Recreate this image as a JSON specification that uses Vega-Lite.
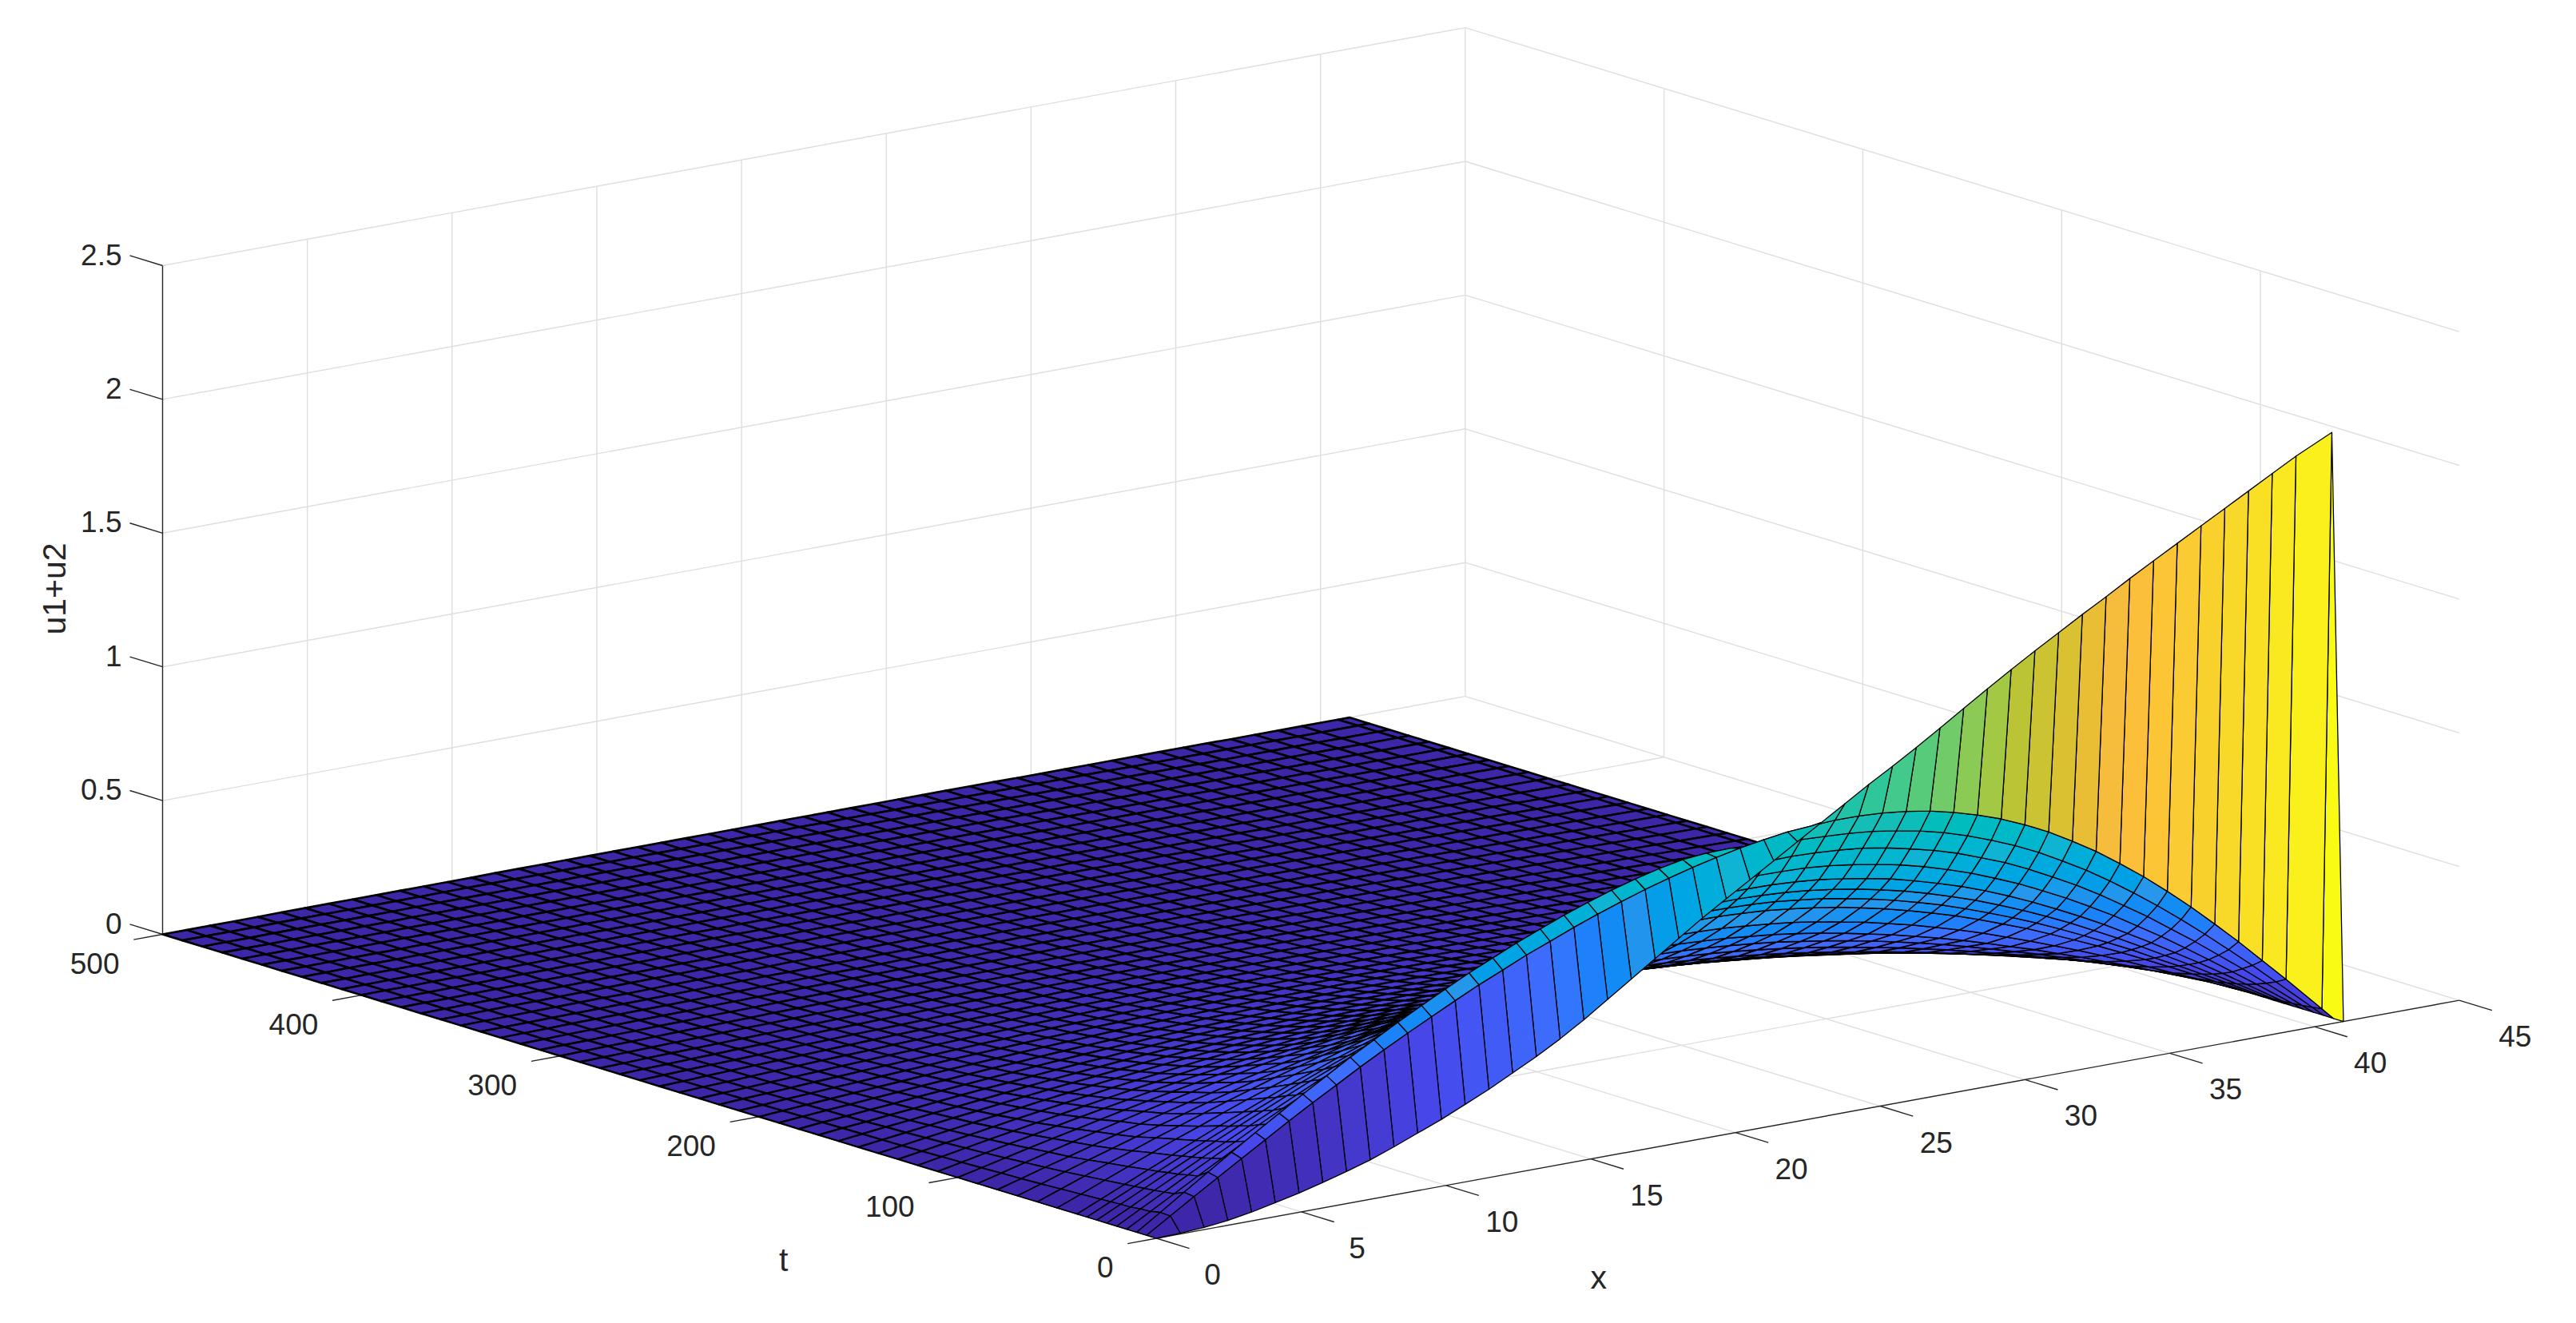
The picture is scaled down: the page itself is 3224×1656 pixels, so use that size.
{"$schema":"https://vega.github.io/schema/vega-lite/v6.json","width":3224,"height":1656,"padding":0,"autosize":{"type":"fit","contains":"padding"},"background":"white","config":{"view":{"stroke":null}},
"datasets":{
"xs":[{"j":1,"x":0},{"j":2,"x":0.82},{"j":3,"x":1.64},{"j":4,"x":2.46},{"j":5,"x":3.28},{"j":6,"x":4.1},{"j":7,"x":4.92},{"j":8,"x":5.74},{"j":9,"x":6.56},{"j":10,"x":7.38},{"j":11,"x":8.2},{"j":12,"x":9.02},{"j":13,"x":9.84},{"j":14,"x":10.66},{"j":15,"x":11.48},{"j":16,"x":12.3},{"j":17,"x":13.12},{"j":18,"x":13.94},{"j":19,"x":14.76},{"j":20,"x":15.58},{"j":21,"x":16.4},{"j":22,"x":17.22},{"j":23,"x":18.04},{"j":24,"x":18.86},{"j":25,"x":19.68},{"j":26,"x":20.5},{"j":27,"x":21.32},{"j":28,"x":22.14},{"j":29,"x":22.96},{"j":30,"x":23.78},{"j":31,"x":24.6},{"j":32,"x":25.42},{"j":33,"x":26.24},{"j":34,"x":27.06},{"j":35,"x":27.88},{"j":36,"x":28.7},{"j":37,"x":29.52},{"j":38,"x":30.34},{"j":39,"x":31.16},{"j":40,"x":31.98},{"j":41,"x":32.8},{"j":42,"x":33.62},{"j":43,"x":34.44},{"j":44,"x":35.26},{"j":45,"x":36.08},{"j":46,"x":36.9},{"j":47,"x":37.72},{"j":48,"x":38.54},{"j":49,"x":39.36},{"j":50,"x":40.6},{"j":51,"x":41}],
"surface":[
{"t":0,"u":[0,3,8,18,33,52,72,95,120,147,180,215,250,290,330,375,420,470,525,585,645,705,765,825,880,935,990,1045,1100,1155,1210,1262,1316,1372,1430,1487,1542,1596,1648,1700,1750,1802,1852,1901,1950,1999,2048,2097,2146,2210,0]},
{"t":5,"u":[0,56,112,167,222,276,330,382,432,483,531,577,622,666,709,748,788,823,859,892,923,952,978,1002,1023,1042,1057,1070,1076,1082,1081,1076,1066,1051,1030,1004,973,935,892,841,787,725,660,589,514,434,352,265,179,44,0]},
{"t":10,"u":[0,58,117,176,234,291,347,402,455,508,557,606,653,698,742,782,822,858,893,925,954,980,1002,1020,1028,1030,1025,1020,1014,1010,1005,996,982,965,943,915,882,846,804,756,705,649,588,524,456,385,311,236,158,39,0]},
{"t":15,"u":[0,50,100,150,199,248,295,344,391,436,480,523,564,605,643,680,715,749,779,808,833,857,878,896,912,924,932,938,940,937,931,922,907,887,865,838,805,771,730,685,638,586,529,472,409,346,279,212,142,34,0]},
{"t":20,"u":[0,48,95,143,189,235,282,327,370,412,456,496,536,573,610,644,675,706,736,761,785,807,826,841,853,863,869,873,872,869,861,849,834,816,793,766,736,701,664,622,578,530,480,425,370,311,251,189,127,31,0]},
{"t":25,"u":[0,44,90,134,179,222,266,308,350,391,430,469,505,541,575,607,638,666,692,717,738,757,773,788,798,806,812,812,811,806,798,785,770,752,729,703,675,643,607,568,526,482,436,386,335,282,228,172,115,28,0]},
{"t":30,"u":[0,43,86,129,171,214,255,295,335,374,411,448,482,516,548,578,607,633,657,680,700,717,731,743,753,759,762,763,760,755,746,734,719,700,679,654,626,596,562,526,487,446,402,357,309,260,210,158,106,26,0]},
{"t":35,"u":[0,41,82,122,163,203,242,281,318,356,391,425,459,491,521,549,577,600,624,644,663,679,691,702,711,716,719,718,715,709,699,688,672,654,633,609,583,553,521,487,451,412,371,329,286,239,193,146,98,24,0]},
{"t":40,"u":[0,39,78,117,155,194,232,268,304,339,373,406,437,467,496,521,547,570,590,610,626,640,652,662,669,673,675,674,670,664,654,642,628,610,590,567,542,515,485,452,419,382,344,305,264,222,179,135,90,22,0]},
{"t":50,"u":[0,35,71,106,141,176,208,242,275,305,336,365,393,419,444,468,489,510,527,543,558,570,580,587,593,596,597,595,591,584,575,565,551,534,517,496,474,449,423,395,364,333,299,266,230,193,155,117,79,19,0]},
{"t":60,"u":[0,32,64,96,126,158,187,217,246,274,302,327,352,375,397,418,437,454,470,483,496,505,515,521,525,527,527,526,521,515,506,497,484,470,453,434,415,393,370,345,318,290,262,231,201,168,136,102,69,17,0]},
{"t":70,"u":[0,28,57,85,112,139,166,192,218,242,267,289,311,331,351,370,386,402,416,428,439,448,456,461,465,467,467,465,462,456,449,440,430,416,402,386,369,349,329,307,283,258,232,206,178,149,120,91,61,15,0]},
{"t":80,"u":[0,25,51,75,100,125,148,172,195,216,238,258,278,296,313,329,344,358,370,380,390,397,404,409,411,413,413,411,408,403,396,388,378,366,354,339,323,306,288,268,248,226,203,180,156,131,106,79,53,13,0]},
{"t":90,"u":[0,23,46,69,91,113,135,156,176,196,215,233,251,267,282,296,309,321,331,340,348,355,360,363,365,366,365,363,360,355,348,340,331,321,309,296,282,267,251,233,215,196,176,156,135,113,91,69,46,11,0]},
{"t":100,"u":[0,20,41,61,81,100,119,138,156,174,190,207,222,236,250,262,274,284,293,301,308,314,318,321,323,324,323,321,318,314,308,301,293,284,274,262,250,236,222,207,190,174,156,138,119,100,81,61,41,10,0]},
{"t":110,"u":[0,18,36,54,71,89,106,122,138,154,169,183,196,209,221,232,242,251,260,267,273,278,282,285,286,287,286,285,282,278,273,267,260,251,242,232,221,209,196,183,169,154,138,122,106,89,71,54,36,9,0]},
{"t":120,"u":[0,16,32,48,63,78,93,108,122,136,149,162,174,185,196,205,214,223,230,236,242,246,250,252,253,254,253,252,250,246,242,236,230,223,214,205,196,185,174,162,149,136,122,108,93,78,63,48,32,8,0]},
{"t":130,"u":[0,14,28,42,56,70,83,96,108,121,132,143,154,164,173,182,190,197,204,209,214,218,221,223,225,225,225,223,221,218,214,209,204,197,190,182,173,164,154,143,132,121,108,96,83,70,56,42,28,7,0]},
{"t":140,"u":[0,12,25,37,49,61,73,85,96,107,117,127,136,145,153,161,168,174,180,185,189,193,195,197,199,199,199,197,195,193,189,185,180,174,168,161,153,145,136,127,117,107,96,85,73,61,49,37,25,6,0]},
{"t":150,"u":[0,11,22,33,44,54,65,75,85,94,103,112,120,128,136,142,149,154,159,164,167,170,173,175,176,176,176,175,173,170,167,164,159,154,149,142,136,128,120,112,103,94,85,75,65,54,44,33,22,5,0]},
{"t":160,"u":[0,10,20,29,39,48,57,66,75,84,92,99,107,114,120,126,132,137,141,145,148,151,153,155,156,156,156,155,153,151,148,145,141,137,132,126,120,114,107,99,92,84,75,66,57,48,39,29,20,5,0]},
{"t":170,"u":[0,9,17,26,34,43,51,59,66,74,81,88,94,101,106,112,117,121,125,128,131,134,136,137,138,138,138,137,136,134,131,128,125,121,117,112,106,101,94,88,81,74,66,59,51,43,34,26,17,4,0]},
{"t":180,"u":[0,8,15,23,30,38,45,52,59,65,72,78,84,89,94,99,103,107,110,113,116,118,120,121,122,122,122,121,120,118,116,113,110,107,103,99,94,89,84,78,72,65,59,52,45,38,30,23,15,4,0]},
{"t":190,"u":[0,7,14,20,27,33,40,46,52,58,63,69,74,79,83,87,91,95,98,100,103,105,106,107,108,108,108,107,106,105,103,100,98,95,91,87,83,79,74,69,63,58,52,46,40,33,27,20,14,3,0]},
{"t":200,"u":[0,6,12,18,24,30,35,41,46,51,56,61,66,70,74,78,81,84,87,89,91,93,94,95,96,96,96,95,94,93,91,89,87,84,81,78,74,70,66,61,56,51,46,41,35,30,24,18,12,3,0]},
{"t":210,"u":[0,5,11,16,21,26,31,36,41,46,50,54,58,62,65,69,72,74,77,79,81,82,83,84,85,85,85,84,83,82,81,79,77,74,72,69,65,62,58,54,50,46,41,36,31,26,21,16,11,3,0]},
{"t":220,"u":[0,5,9,14,19,23,28,32,36,40,44,48,51,55,58,61,63,66,68,70,71,73,74,74,75,75,75,74,74,73,71,70,68,66,63,61,58,55,51,48,44,40,36,32,28,23,19,14,9,2,0]},
{"t":230,"u":[0,4,8,12,16,20,24,28,32,35,39,42,45,48,51,53,56,58,60,61,63,64,65,65,66,66,66,65,65,64,63,61,60,58,56,53,51,48,45,42,39,35,32,28,24,20,16,12,8,2,0]},
{"t":240,"u":[0,4,7,11,15,18,22,25,28,32,35,38,40,43,45,48,50,52,53,55,56,57,58,59,59,59,59,59,58,57,56,55,53,52,50,48,45,43,40,38,35,32,28,25,22,18,15,11,7,2,0]},
{"t":250,"u":[0,3,7,10,13,16,19,22,25,28,31,33,36,38,40,42,44,46,47,48,49,50,51,52,52,52,52,52,51,50,49,48,47,46,44,42,40,38,36,33,31,28,25,22,19,16,13,10,7,2,0]},
{"t":260,"u":[0,3,6,9,11,14,17,20,22,25,27,29,31,34,35,37,39,40,42,43,44,45,45,46,46,46,46,46,45,45,44,43,42,40,39,37,35,34,31,29,27,25,22,20,17,14,11,9,6,1,0]},
{"t":270,"u":[0,3,5,8,10,13,15,17,20,22,24,26,28,30,32,33,35,36,37,38,39,40,40,41,41,41,41,41,40,40,39,38,37,36,35,33,32,30,28,26,24,22,20,17,15,13,10,8,5,1,0]},
{"t":280,"u":[0,2,5,7,9,11,13,15,17,19,21,23,25,26,28,29,30,32,33,33,34,35,35,36,36,36,36,36,35,35,34,33,33,32,30,29,28,26,25,23,21,19,17,15,13,11,9,7,5,1,0]},
{"t":290,"u":[0,2,4,6,8,10,12,14,15,17,19,20,22,23,25,26,27,28,29,30,30,31,31,32,32,32,32,32,31,31,30,30,29,28,27,26,25,23,22,20,19,17,15,14,12,10,8,6,4,1,0]},
{"t":300,"u":[0,2,4,5,7,9,10,12,13,15,16,18,19,20,22,23,24,25,25,26,27,27,28,28,28,28,28,28,28,27,27,26,25,25,24,23,22,20,19,18,16,15,13,12,10,9,7,5,4,1,0]},
{"t":310,"u":[0,2,3,5,6,8,9,11,12,13,15,16,17,18,19,20,21,22,23,23,24,24,25,25,25,25,25,25,25,24,24,23,23,22,21,20,19,18,17,16,15,13,12,11,9,8,6,5,3,1,0]},
{"t":320,"u":[0,1,3,4,5,7,8,9,11,12,13,14,15,16,17,18,19,19,20,20,21,21,22,22,22,22,22,22,22,21,21,20,20,19,19,18,17,16,15,14,13,12,11,9,8,7,5,4,3,1,0]},
{"t":330,"u":[0,1,2,4,5,6,7,8,9,10,11,12,13,14,15,15,16,17,17,18,18,18,19,19,19,19,19,19,19,18,18,18,17,17,16,15,15,14,13,12,11,10,9,8,7,6,5,4,2,1,0]},
{"t":340,"u":[0,1,2,3,4,5,6,7,8,9,10,11,12,12,13,14,14,15,15,16,16,16,17,17,17,17,17,17,17,16,16,16,15,15,14,14,13,12,12,11,10,9,8,7,6,5,4,3,2,1,0]},
{"t":350,"u":[0,1,2,3,4,5,6,6,7,8,9,10,10,11,12,12,13,13,14,14,14,15,15,15,15,15,15,15,15,15,14,14,14,13,13,12,12,11,10,10,9,8,7,6,6,5,4,3,2,0,0]},
{"t":360,"u":[0,1,2,3,3,4,5,6,7,8,8,9,10,10,11,11,12,12,13,13,13,14,14,14,14,14,14,14,14,14,13,13,13,12,12,11,11,10,10,9,8,8,7,6,5,4,3,3,2,0,0]},
{"t":370,"u":[0,1,2,2,3,4,4,5,6,6,7,8,8,9,9,10,10,11,11,11,11,12,12,12,12,12,12,12,12,12,11,11,11,11,10,10,9,9,8,8,7,6,6,5,4,4,3,2,2,0,0]},
{"t":380,"u":[0,1,1,2,3,3,4,5,5,6,6,7,8,8,8,9,9,10,10,10,10,11,11,11,11,11,11,11,11,11,10,10,10,10,9,9,8,8,8,7,6,6,5,5,4,3,3,2,1,0,0]},
{"t":390,"u":[0,1,1,2,2,3,4,4,5,5,6,6,7,7,8,8,8,9,9,9,10,10,10,10,10,10,10,10,10,10,10,9,9,9,8,8,8,7,7,6,6,5,5,4,4,3,2,2,1,0,0]},
{"t":400,"u":[0,1,1,2,2,2,3,3,4,4,5,5,5,6,6,6,7,7,7,7,8,8,8,8,8,8,8,8,8,8,8,7,7,7,7,6,6,6,5,5,5,4,4,3,3,2,2,2,1,0,0]},
{"t":410,"u":[0,0,1,1,2,2,3,3,3,4,4,4,5,5,5,6,6,6,6,7,7,7,7,7,7,7,7,7,7,7,7,7,6,6,6,6,5,5,5,4,4,4,3,3,3,2,2,1,1,0,0]},
{"t":420,"u":[0,0,1,1,1,2,2,3,3,3,4,4,4,4,5,5,5,5,5,6,6,6,6,6,6,6,6,6,6,6,6,6,5,5,5,5,5,4,4,4,4,3,3,3,2,2,1,1,1,0,0]},
{"t":430,"u":[0,0,1,1,1,2,2,2,3,3,3,3,4,4,4,4,5,5,5,5,5,5,5,5,5,5,5,5,5,5,5,5,5,5,5,4,4,4,4,3,3,3,3,2,2,2,1,1,1,0,0]},
{"t":440,"u":[0,0,1,1,1,1,2,2,2,3,3,3,3,4,4,4,4,4,4,5,5,5,5,5,5,5,5,5,5,5,5,5,4,4,4,4,4,4,3,3,3,3,2,2,2,1,1,1,1,0,0]},
{"t":450,"u":[0,0,0,1,1,1,2,2,2,2,2,3,3,3,3,3,4,4,4,4,4,4,4,4,4,4,4,4,4,4,4,4,4,4,4,3,3,3,3,3,2,2,2,2,2,1,1,1,0,0,0]},
{"t":460,"u":[0,0,0,1,1,1,1,2,2,2,2,2,3,3,3,3,3,3,4,4,4,4,4,4,4,4,4,4,4,4,4,4,4,3,3,3,3,3,3,2,2,2,2,2,1,1,1,1,0,0,0]},
{"t":470,"u":[0,0,0,1,1,1,1,1,2,2,2,2,2,2,3,3,3,3,3,3,3,3,3,3,3,3,3,3,3,3,3,3,3,3,3,3,3,2,2,2,2,2,2,1,1,1,1,1,0,0,0]},
{"t":480,"u":[0,0,0,1,1,1,1,1,1,2,2,2,2,2,2,2,3,3,3,3,3,3,3,3,3,3,3,3,3,3,3,3,3,3,3,2,2,2,2,2,2,2,1,1,1,1,1,1,0,0,0]},
{"t":490,"u":[0,0,0,0,1,1,1,1,1,1,1,2,2,2,2,2,2,2,2,2,2,2,2,2,2,2,2,2,2,2,2,2,2,2,2,2,2,2,2,2,1,1,1,1,1,1,1,0,0,0,0]},
{"t":500,"u":[0,0,0,0,0,1,1,1,1,1,1,1,1,1,2,2,2,2,2,2,2,2,2,2,2,2,2,2,2,2,2,2,2,2,2,2,1,1,1,1,1,1,1,1,1,0,0,0,0,0,0]}
],
"segs":[
{"k":"g","x":5,"t":0,"z":0,"x2":5,"t2":500,"z2":0},{"k":"g","x":10,"t":0,"z":0,"x2":10,"t2":500,"z2":0},{"k":"g","x":15,"t":0,"z":0,"x2":15,"t2":500,"z2":0},{"k":"g","x":20,"t":0,"z":0,"x2":20,"t2":500,"z2":0},{"k":"g","x":25,"t":0,"z":0,"x2":25,"t2":500,"z2":0},{"k":"g","x":30,"t":0,"z":0,"x2":30,"t2":500,"z2":0},{"k":"g","x":35,"t":0,"z":0,"x2":35,"t2":500,"z2":0},{"k":"g","x":40,"t":0,"z":0,"x2":40,"t2":500,"z2":0},{"k":"g","x":45,"t":0,"z":0,"x2":45,"t2":500,"z2":0},
{"k":"g","x":0,"t":100,"z":0,"x2":45,"t2":100,"z2":0},{"k":"g","x":0,"t":200,"z":0,"x2":45,"t2":200,"z2":0},{"k":"g","x":0,"t":300,"z":0,"x2":45,"t2":300,"z2":0},{"k":"g","x":0,"t":400,"z":0,"x2":45,"t2":400,"z2":0},{"k":"g","x":0,"t":500,"z":0,"x2":45,"t2":500,"z2":0},
{"k":"g","x":5,"t":500,"z":0,"x2":5,"t2":500,"z2":2.5},{"k":"g","x":10,"t":500,"z":0,"x2":10,"t2":500,"z2":2.5},{"k":"g","x":15,"t":500,"z":0,"x2":15,"t2":500,"z2":2.5},{"k":"g","x":20,"t":500,"z":0,"x2":20,"t2":500,"z2":2.5},{"k":"g","x":25,"t":500,"z":0,"x2":25,"t2":500,"z2":2.5},{"k":"g","x":30,"t":500,"z":0,"x2":30,"t2":500,"z2":2.5},{"k":"g","x":35,"t":500,"z":0,"x2":35,"t2":500,"z2":2.5},{"k":"g","x":40,"t":500,"z":0,"x2":40,"t2":500,"z2":2.5},{"k":"g","x":45,"t":500,"z":0,"x2":45,"t2":500,"z2":2.5},
{"k":"g","x":45,"t":100,"z":0,"x2":45,"t2":100,"z2":2.5},{"k":"g","x":45,"t":200,"z":0,"x2":45,"t2":200,"z2":2.5},{"k":"g","x":45,"t":300,"z":0,"x2":45,"t2":300,"z2":2.5},{"k":"g","x":45,"t":400,"z":0,"x2":45,"t2":400,"z2":2.5},
{"k":"g","x":0,"t":500,"z":0.5,"x2":45,"t2":500,"z2":0.5},{"k":"g","x":0,"t":500,"z":1,"x2":45,"t2":500,"z2":1},{"k":"g","x":0,"t":500,"z":1.5,"x2":45,"t2":500,"z2":1.5},{"k":"g","x":0,"t":500,"z":2,"x2":45,"t2":500,"z2":2},{"k":"g","x":0,"t":500,"z":2.5,"x2":45,"t2":500,"z2":2.5},
{"k":"g","x":45,"t":0,"z":0.5,"x2":45,"t2":500,"z2":0.5},{"k":"g","x":45,"t":0,"z":1,"x2":45,"t2":500,"z2":1},{"k":"g","x":45,"t":0,"z":1.5,"x2":45,"t2":500,"z2":1.5},{"k":"g","x":45,"t":0,"z":2,"x2":45,"t2":500,"z2":2},{"k":"g","x":45,"t":0,"z":2.5,"x2":45,"t2":500,"z2":2.5},
{"k":"a","x":0,"t":0,"z":0,"x2":45,"t2":0,"z2":0},{"k":"a","x":0,"t":0,"z":0,"x2":0,"t2":500,"z2":0},{"k":"a","x":0,"t":500,"z":0,"x2":0,"t2":500,"z2":2.5},
{"k":"a","x":0,"t":0,"z":0,"x2":0,"t2":-16.5,"z2":0},{"k":"a","x":5,"t":0,"z":0,"x2":5,"t2":-16.5,"z2":0},{"k":"a","x":10,"t":0,"z":0,"x2":10,"t2":-16.5,"z2":0},{"k":"a","x":15,"t":0,"z":0,"x2":15,"t2":-16.5,"z2":0},{"k":"a","x":20,"t":0,"z":0,"x2":20,"t2":-16.5,"z2":0},{"k":"a","x":25,"t":0,"z":0,"x2":25,"t2":-16.5,"z2":0},{"k":"a","x":30,"t":0,"z":0,"x2":30,"t2":-16.5,"z2":0},{"k":"a","x":35,"t":0,"z":0,"x2":35,"t2":-16.5,"z2":0},{"k":"a","x":40,"t":0,"z":0,"x2":40,"t2":-16.5,"z2":0},{"k":"a","x":45,"t":0,"z":0,"x2":45,"t2":-16.5,"z2":0},
{"k":"a","x":0,"t":0,"z":0,"x2":-1,"t2":0,"z2":0},{"k":"a","x":0,"t":100,"z":0,"x2":-1,"t2":100,"z2":0},{"k":"a","x":0,"t":200,"z":0,"x2":-1,"t2":200,"z2":0},{"k":"a","x":0,"t":300,"z":0,"x2":-1,"t2":300,"z2":0},{"k":"a","x":0,"t":400,"z":0,"x2":-1,"t2":400,"z2":0},{"k":"a","x":0,"t":500,"z":0,"x2":-1,"t2":500,"z2":0},
{"k":"a","x":0,"t":500,"z":0,"x2":0,"t2":516.5,"z2":0},{"k":"a","x":0,"t":500,"z":0.5,"x2":0,"t2":516.5,"z2":0.5},{"k":"a","x":0,"t":500,"z":1,"x2":0,"t2":516.5,"z2":1},{"k":"a","x":0,"t":500,"z":1.5,"x2":0,"t2":516.5,"z2":1.5},{"k":"a","x":0,"t":500,"z":2,"x2":0,"t2":516.5,"z2":2},{"k":"a","x":0,"t":500,"z":2.5,"x2":0,"t2":516.5,"z2":2.5}
],
"labels":[
{"k":"x","text":"0","x":0,"t":0,"z":0},{"k":"x","text":"5","x":5,"t":0,"z":0},{"k":"x","text":"10","x":10,"t":0,"z":0},{"k":"x","text":"15","x":15,"t":0,"z":0},{"k":"x","text":"20","x":20,"t":0,"z":0},{"k":"x","text":"25","x":25,"t":0,"z":0},{"k":"x","text":"30","x":30,"t":0,"z":0},{"k":"x","text":"35","x":35,"t":0,"z":0},{"k":"x","text":"40","x":40,"t":0,"z":0},{"k":"x","text":"45","x":45,"t":0,"z":0},
{"k":"t","text":"0","x":0,"t":0,"z":0},{"k":"t","text":"100","x":0,"t":100,"z":0},{"k":"t","text":"200","x":0,"t":200,"z":0},{"k":"t","text":"300","x":0,"t":300,"z":0},{"k":"t","text":"400","x":0,"t":400,"z":0},{"k":"t","text":"500","x":0,"t":500,"z":0},
{"k":"z","text":"0","x":0,"t":500,"z":0},{"k":"z","text":"0.5","x":0,"t":500,"z":0.5},{"k":"z","text":"1","x":0,"t":500,"z":1},{"k":"z","text":"1.5","x":0,"t":500,"z":1.5},{"k":"z","text":"2","x":0,"t":500,"z":2},{"k":"z","text":"2.5","x":0,"t":500,"z":2.5},
{"k":"title","text":"x","x":6.65,"t":-125.5,"z":0},{"k":"title","text":"t","x":-9.69,"t":46.5,"z":0},
{"k":"ztitle","text":"u1+u2","x":0,"t":553.7,"z":1.17}
]},
"layer":[
{"data":{"name":"segs"},"transform":[{"filter":"datum.k=='g'"},{"calculate":"1447.5+36.23*datum.x-2.488*datum.t","as":"sx"},{"calculate":"1550-6.62*datum.x-0.761*datum.t-334.8*datum.z","as":"sy"},{"calculate":"1447.5+36.23*datum.x2-2.488*datum.t2","as":"sx2"},{"calculate":"1550-6.62*datum.x2-0.761*datum.t2-334.8*datum.z2","as":"sy2"}],
"mark":{"type":"rule","stroke":"#DEDEDE","strokeWidth":1.4},
"encoding":{"x":{"field":"sx","type":"quantitative","scale":{"domain":[0,3224],"nice":false,"zero":false},"axis":null},"y":{"field":"sy","type":"quantitative","scale":{"domain":[1656,0],"nice":false,"zero":false},"axis":null},"x2":{"field":"sx2"},"y2":{"field":"sy2"}}},
{"data":{"name":"segs"},"transform":[{"filter":"datum.k=='a'"},{"calculate":"1447.5+36.23*datum.x-2.488*datum.t","as":"sx"},{"calculate":"1550-6.62*datum.x-0.761*datum.t-334.8*datum.z","as":"sy"},{"calculate":"1447.5+36.23*datum.x2-2.488*datum.t2","as":"sx2"},{"calculate":"1550-6.62*datum.x2-0.761*datum.t2-334.8*datum.z2","as":"sy2"}],
"mark":{"type":"rule","stroke":"#262626","strokeWidth":1.4},
"encoding":{"x":{"field":"sx","type":"quantitative","axis":null},"y":{"field":"sy","type":"quantitative","axis":null},"x2":{"field":"sx2"},"y2":{"field":"sy2"}}},
{"data":{"name":"surface"},
"transform":[
{"window":[{"op":"lead","field":"u","as":"v"},{"op":"lead","field":"t","as":"t2"}],"sort":[{"field":"t"}]},
{"filter":"datum.t2!=null"},
{"flatten":["u","v"],"as":["u0","u1"]},
{"window":[{"op":"row_number","as":"j"}],"groupby":["t"]},
{"window":[{"op":"lead","field":"u0","as":"u0b"},{"op":"lead","field":"u1","as":"u1b"}],"groupby":["t"],"sort":[{"field":"j"}]},
{"filter":"datum.u0b!=null"},
{"calculate":"datum.j+1","as":"k"},
{"lookup":"j","from":{"data":{"name":"xs"},"key":"j","fields":["x"]},"as":["xa"]},
{"lookup":"k","from":{"data":{"name":"xs"},"key":"j","fields":["x"]},"as":["xb"]},
{"calculate":"datum.t*1000+datum.xa","as":"depth"},
{"calculate":"{type:'Feature',properties:{},geometry:{type:'Polygon',coordinates:[[[1447.5+36.23*datum.xa-2.488*datum.t,1550-6.62*datum.xa-0.761*datum.t-0.3348*datum.u0],[1447.5+36.23*datum.xb-2.488*datum.t,1550-6.62*datum.xb-0.761*datum.t-0.3348*datum.u0b],[1447.5+36.23*datum.xb-2.488*datum.t2,1550-6.62*datum.xb-0.761*datum.t2-0.3348*datum.u1b],[1447.5+36.23*datum.xa-2.488*datum.t2,1550-6.62*datum.xa-0.761*datum.t2-0.3348*datum.u1],[1447.5+36.23*datum.xa-2.488*datum.t,1550-6.62*datum.xa-0.761*datum.t-0.3348*datum.u0]]]}}","as":"geo"}
],
"projection":{"type":"identity","scale":1,"translate":[0,0]},
"mark":{"type":"geoshape","stroke":"#000000","strokeJoin":"round"},
"encoding":{"shape":{"field":"geo","type":"geojson"},"order":{"field":"depth","type":"quantitative","sort":"descending"},"strokeWidth":{"field":"t","type":"quantitative","legend":null,"scale":{"domain":[0,60,150,500],"range":[1.3,1.6,2.3,2.7]}},"fill":{"field":"u0","type":"quantitative","legend":null,"scale":{"domain":[0,221,442,663,884,1105,1326,1547,1768,1989,2210],"range":["#3E26A8","#4747EB","#3D70FF","#2797EB","#12B3D3","#1FBFB2","#5CCB77","#BDC433","#FBBB3D","#F8D62A","#F9FB15"]}}}},
{"data":{"name":"labels"},"transform":[{"filter":"datum.k=='x'"},{"calculate":"1447.5+36.23*datum.x-2.488*datum.t","as":"sx"},{"calculate":"1550-6.62*datum.x-0.761*datum.t-334.8*datum.z","as":"sy"}],
"mark":{"type":"text","font":"Liberation Sans","fontSize":37,"fill":"#262626","align":"center","baseline":"middle","dx":70,"dy":47},
"encoding":{"x":{"field":"sx","type":"quantitative","axis":null},"y":{"field":"sy","type":"quantitative","axis":null},"text":{"field":"text","type":"nominal"}}},
{"data":{"name":"labels"},"transform":[{"filter":"datum.k=='t'"},{"calculate":"1447.5+36.23*datum.x-2.488*datum.t","as":"sx"},{"calculate":"1550-6.62*datum.x-0.761*datum.t-334.8*datum.z","as":"sy"}],
"mark":{"type":"text","font":"Liberation Sans","fontSize":37,"fill":"#262626","align":"right","baseline":"middle","dx":-54,"dy":38},
"encoding":{"x":{"field":"sx","type":"quantitative","axis":null},"y":{"field":"sy","type":"quantitative","axis":null},"text":{"field":"text","type":"nominal"}}},
{"data":{"name":"labels"},"transform":[{"filter":"datum.k=='z'"},{"calculate":"1447.5+36.23*datum.x-2.488*datum.t","as":"sx"},{"calculate":"1550-6.62*datum.x-0.761*datum.t-334.8*datum.z","as":"sy"}],
"mark":{"type":"text","font":"Liberation Sans","fontSize":37,"fill":"#262626","align":"right","baseline":"middle","dx":-51,"dy":-12},
"encoding":{"x":{"field":"sx","type":"quantitative","axis":null},"y":{"field":"sy","type":"quantitative","axis":null},"text":{"field":"text","type":"nominal"}}},
{"data":{"name":"labels"},"transform":[{"filter":"datum.k=='title'"},{"calculate":"1447.5+36.23*datum.x-2.488*datum.t","as":"sx"},{"calculate":"1550-6.62*datum.x-0.761*datum.t-334.8*datum.z","as":"sy"}],
"mark":{"type":"text","font":"Liberation Sans","fontSize":41,"fill":"#262626","align":"center","baseline":"middle"},
"encoding":{"x":{"field":"sx","type":"quantitative","axis":null},"y":{"field":"sy","type":"quantitative","axis":null},"text":{"field":"text","type":"nominal"}}},
{"data":{"name":"labels"},"transform":[{"filter":"datum.k=='ztitle'"},{"calculate":"1447.5+36.23*datum.x-2.488*datum.t","as":"sx"},{"calculate":"1550-6.62*datum.x-0.761*datum.t-334.8*datum.z","as":"sy"}],
"mark":{"type":"text","font":"Liberation Sans","fontSize":41,"fill":"#262626","align":"center","baseline":"middle","angle":270},
"encoding":{"x":{"field":"sx","type":"quantitative","axis":null},"y":{"field":"sy","type":"quantitative","axis":null},"text":{"field":"text","type":"nominal"}}}
]}
